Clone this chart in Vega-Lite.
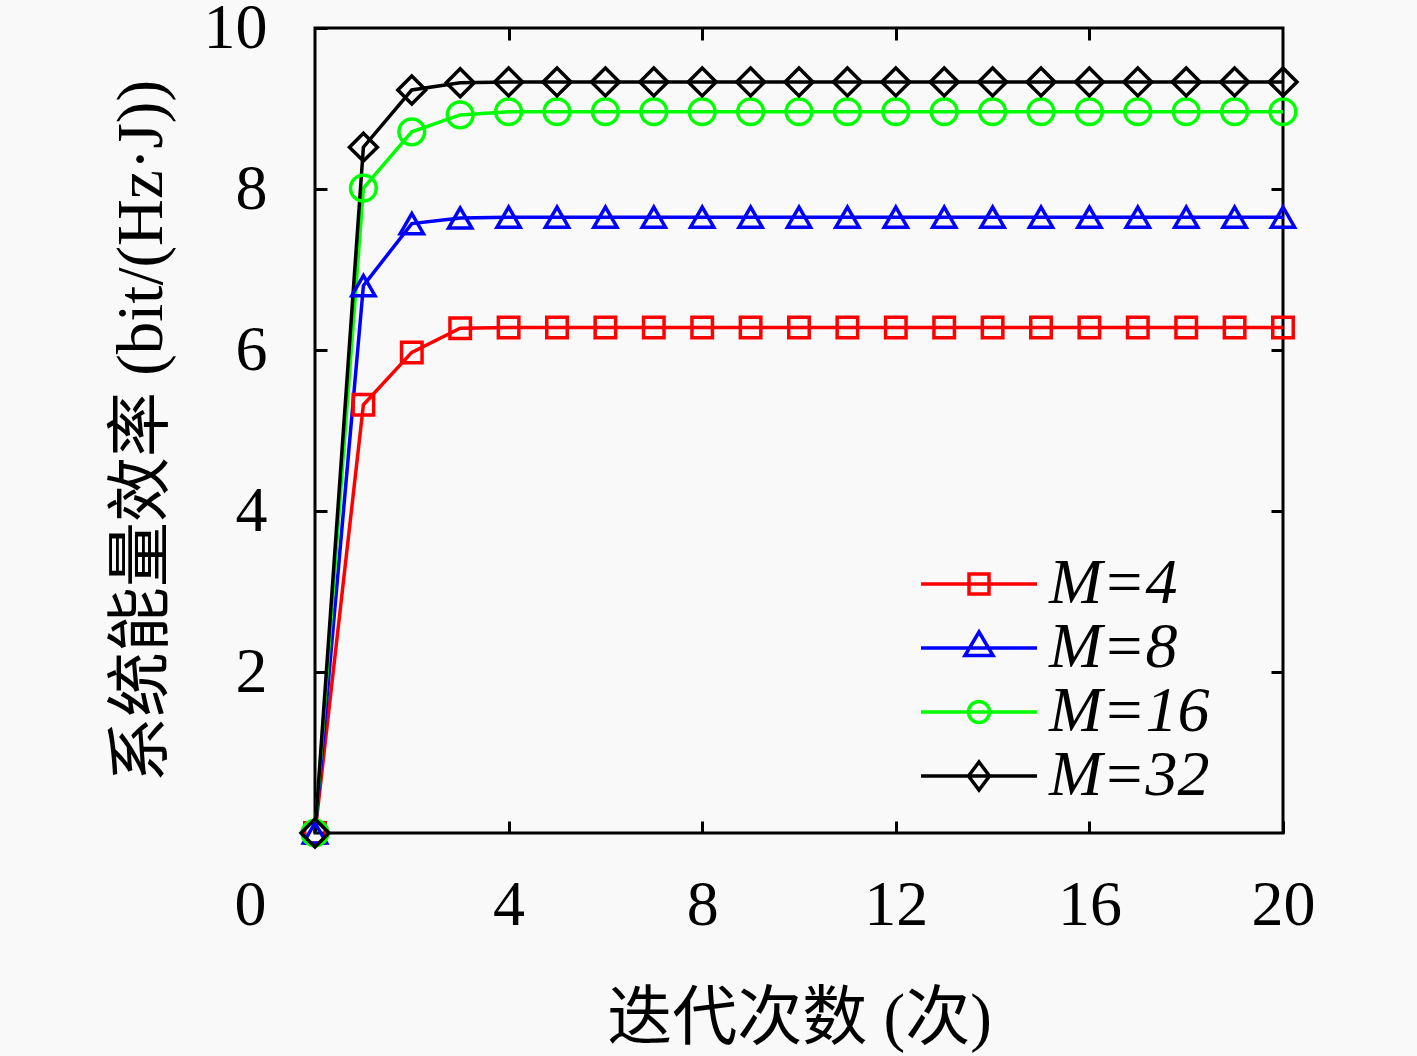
{
  "$schema": "https://vega.github.io/schema/vega-lite/v6.json",
  "width": 968,
  "height": 805,
  "autosize": "none",
  "padding": {"left": 315, "top": 28, "right": 134, "bottom": 223},
  "background": "#f9f9f9",
  "config": {
    "view": {"stroke": "black", "strokeWidth": 3},
    "axis": {
      "labelFont": "Liberation Serif",
      "labelFontSize": 64,
      "labelColor": "black",
      "titleFont": "'Liberation Serif', 'Noto Sans CJK SC'",
      "titleFontSize": 65,
      "titleFontWeight": "normal",
      "titleColor": "black",
      "tickColor": "black",
      "tickWidth": 3,
      "tickSize": -12,
      "domain": false,
      "grid": false,
      "labelFlush": false,
      "labelOverlap": false
    }
  },
  "data": {"values": [
    {"M": "M=4", "iter": 0, "ee": 0}, {"M": "M=4", "iter": 1, "ee": 5.32}, {"M": "M=4", "iter": 2, "ee": 5.97},
    {"M": "M=4", "iter": 3, "ee": 6.27}, {"M": "M=4", "iter": 4, "ee": 6.28}, {"M": "M=4", "iter": 5, "ee": 6.28},
    {"M": "M=4", "iter": 6, "ee": 6.28}, {"M": "M=4", "iter": 7, "ee": 6.28}, {"M": "M=4", "iter": 8, "ee": 6.28},
    {"M": "M=4", "iter": 9, "ee": 6.28}, {"M": "M=4", "iter": 10, "ee": 6.28}, {"M": "M=4", "iter": 11, "ee": 6.28},
    {"M": "M=4", "iter": 12, "ee": 6.28}, {"M": "M=4", "iter": 13, "ee": 6.28}, {"M": "M=4", "iter": 14, "ee": 6.28},
    {"M": "M=4", "iter": 15, "ee": 6.28}, {"M": "M=4", "iter": 16, "ee": 6.28}, {"M": "M=4", "iter": 17, "ee": 6.28},
    {"M": "M=4", "iter": 18, "ee": 6.28}, {"M": "M=4", "iter": 19, "ee": 6.28}, {"M": "M=4", "iter": 20, "ee": 6.28},
    {"M": "M=8", "iter": 0, "ee": 0}, {"M": "M=8", "iter": 1, "ee": 6.8}, {"M": "M=8", "iter": 2, "ee": 7.57},
    {"M": "M=8", "iter": 3, "ee": 7.64}, {"M": "M=8", "iter": 4, "ee": 7.65}, {"M": "M=8", "iter": 5, "ee": 7.65},
    {"M": "M=8", "iter": 6, "ee": 7.65}, {"M": "M=8", "iter": 7, "ee": 7.65}, {"M": "M=8", "iter": 8, "ee": 7.65},
    {"M": "M=8", "iter": 9, "ee": 7.65}, {"M": "M=8", "iter": 10, "ee": 7.65}, {"M": "M=8", "iter": 11, "ee": 7.65},
    {"M": "M=8", "iter": 12, "ee": 7.65}, {"M": "M=8", "iter": 13, "ee": 7.65}, {"M": "M=8", "iter": 14, "ee": 7.65},
    {"M": "M=8", "iter": 15, "ee": 7.65}, {"M": "M=8", "iter": 16, "ee": 7.65}, {"M": "M=8", "iter": 17, "ee": 7.65},
    {"M": "M=8", "iter": 18, "ee": 7.65}, {"M": "M=8", "iter": 19, "ee": 7.65}, {"M": "M=8", "iter": 20, "ee": 7.65},
    {"M": "M=16", "iter": 0, "ee": 0}, {"M": "M=16", "iter": 1, "ee": 8.01}, {"M": "M=16", "iter": 2, "ee": 8.71},
    {"M": "M=16", "iter": 3, "ee": 8.92}, {"M": "M=16", "iter": 4, "ee": 8.96}, {"M": "M=16", "iter": 5, "ee": 8.96},
    {"M": "M=16", "iter": 6, "ee": 8.96}, {"M": "M=16", "iter": 7, "ee": 8.96}, {"M": "M=16", "iter": 8, "ee": 8.96},
    {"M": "M=16", "iter": 9, "ee": 8.96}, {"M": "M=16", "iter": 10, "ee": 8.96}, {"M": "M=16", "iter": 11, "ee": 8.96},
    {"M": "M=16", "iter": 12, "ee": 8.96}, {"M": "M=16", "iter": 13, "ee": 8.96}, {"M": "M=16", "iter": 14, "ee": 8.96},
    {"M": "M=16", "iter": 15, "ee": 8.96}, {"M": "M=16", "iter": 16, "ee": 8.96}, {"M": "M=16", "iter": 17, "ee": 8.96},
    {"M": "M=16", "iter": 18, "ee": 8.96}, {"M": "M=16", "iter": 19, "ee": 8.96}, {"M": "M=16", "iter": 20, "ee": 8.96},
    {"M": "M=32", "iter": 0, "ee": 0}, {"M": "M=32", "iter": 1, "ee": 8.52}, {"M": "M=32", "iter": 2, "ee": 9.23},
    {"M": "M=32", "iter": 3, "ee": 9.32}, {"M": "M=32", "iter": 4, "ee": 9.33}, {"M": "M=32", "iter": 5, "ee": 9.33},
    {"M": "M=32", "iter": 6, "ee": 9.33}, {"M": "M=32", "iter": 7, "ee": 9.33}, {"M": "M=32", "iter": 8, "ee": 9.33},
    {"M": "M=32", "iter": 9, "ee": 9.33}, {"M": "M=32", "iter": 10, "ee": 9.33}, {"M": "M=32", "iter": 11, "ee": 9.33},
    {"M": "M=32", "iter": 12, "ee": 9.33}, {"M": "M=32", "iter": 13, "ee": 9.33}, {"M": "M=32", "iter": 14, "ee": 9.33},
    {"M": "M=32", "iter": 15, "ee": 9.33}, {"M": "M=32", "iter": 16, "ee": 9.33}, {"M": "M=32", "iter": 17, "ee": 9.33},
    {"M": "M=32", "iter": 18, "ee": 9.33}, {"M": "M=32", "iter": 19, "ee": 9.33}, {"M": "M=32", "iter": 20, "ee": 9.33}
  ]},
  "layer": [
    {
      "mark": {"type": "line", "strokeWidth": 3.5},
      "encoding": {
        "x": {
          "field": "iter", "type": "quantitative",
          "scale": {"domain": [0, 20]},
          "title": "迭代次数 (次)",
          "axis": {
            "values": [0, 4, 8, 12, 16, 20],
            "labelPadding": 52,
            "labelOffset": {"condition": {"test": "datum.value === 0", "value": -65}, "value": 0},
            "titlePadding": 50
          }
        },
        "y": {
          "field": "ee", "type": "quantitative",
          "scale": {"domain": [0, 10]},
          "title": "系统能量效率 (bit/(Hz·J))",
          "axis": {"values": [2, 4, 6, 8, 10], "labelPadding": 60, "labelBaseline": "middle", "titlePadding": 28}
        },
        "color": {
          "field": "M", "type": "nominal",
          "scale": {"domain": ["M=4", "M=8", "M=16", "M=32"], "range": ["#ff0000", "#0000ff", "#00ff00", "#000000"]},
          "legend": null
        },
        "detail": {"field": "M"}
      }
    },
    {
      "mark": {"type": "point", "filled": false, "strokeWidth": 3.5, "opacity": 1},
      "encoding": {
        "x": {
          "field": "iter", "type": "quantitative",
          "axis": {"orient": "top", "values": [4, 8, 12, 16], "labels": false, "title": null}
        },
        "y": {
          "field": "ee", "type": "quantitative",
          "axis": {"orient": "right", "values": [2, 4, 6, 8], "labels": false, "title": null}
        },
        "color": {
          "field": "M", "type": "nominal",
          "scale": {"domain": ["M=4", "M=8", "M=16", "M=32"], "range": ["#ff0000", "#0000ff", "#00ff00", "#000000"]},
          "legend": null
        },
        "shape": {
          "field": "M", "type": "nominal",
          "scale": {"domain": ["M=4", "M=8", "M=16", "M=32"], "range": ["square", "triangle-up", "circle", "diamond"]},
          "legend": null
        },
        "size": {
          "field": "M", "type": "nominal",
          "scale": {"domain": ["M=4", "M=8", "M=16", "M=32"], "range": [420, 780, 460, 560]},
          "legend": null
        }
      }
    },
    {
      "mark": {"type": "point", "filled": false, "strokeWidth": 3.5, "opacity": 0},
      "encoding": {
        "x": {"field": "iter", "type": "quantitative", "axis": null},
        "y": {"field": "ee", "type": "quantitative", "axis": null},
        "color": {
          "field": "M", "type": "nominal",
          "scale": {"domain": ["M=4", "M=8", "M=16", "M=32"], "range": ["#ff0000", "#0000ff", "#00ff00", "#000000"]},
          "legend": {
            "title": null, "orient": "none", "legendX": 632, "legendY": 524,
            "labelFont": "Liberation Serif", "labelFontSize": 64, "labelFontStyle": "italic", "labelColor": "black",
            "labelOffset": 38, "labelLimit": 0, "symbolSize": 400, "symbolStrokeWidth": 3.5, "symbolFillColor": "transparent",
            "rowPadding": -2, "padding": 0
          }
        },
        "shape": {
          "field": "M", "type": "nominal",
          "scale": {
            "domain": ["M=4", "M=8", "M=16", "M=32"],
            "range": [
              "M-5.8,0H5.8M-1,-1H1V1H-1Z",
              "M-5.8,0H5.8M0,-1.6L1.4,0.75H-1.4Z",
              "M-5.8,0H5.8M-1.05,0A1.05,1.05 0 1,0 1.05,0A1.05,1.05 0 1,0 -1.05,0Z",
              "M-5.8,0H5.8M0,-1.4L1.05,0L0,1.4L-1.05,0Z"
            ]
          },
          "legend": {
            "title": null, "orient": "none", "legendX": 632, "legendY": 524,
            "labelFont": "Liberation Serif", "labelFontSize": 64, "labelFontStyle": "italic", "labelColor": "black",
            "labelOffset": 38, "labelLimit": 0, "symbolSize": 400, "symbolStrokeWidth": 3.5, "symbolFillColor": "transparent",
            "rowPadding": -2, "padding": 0
          }
        }
      }
    }
  ],
  "resolve": {
    "scale": {"color": "independent", "shape": "independent"},
    "axis": {"x": "independent", "y": "independent"}
  }
}
